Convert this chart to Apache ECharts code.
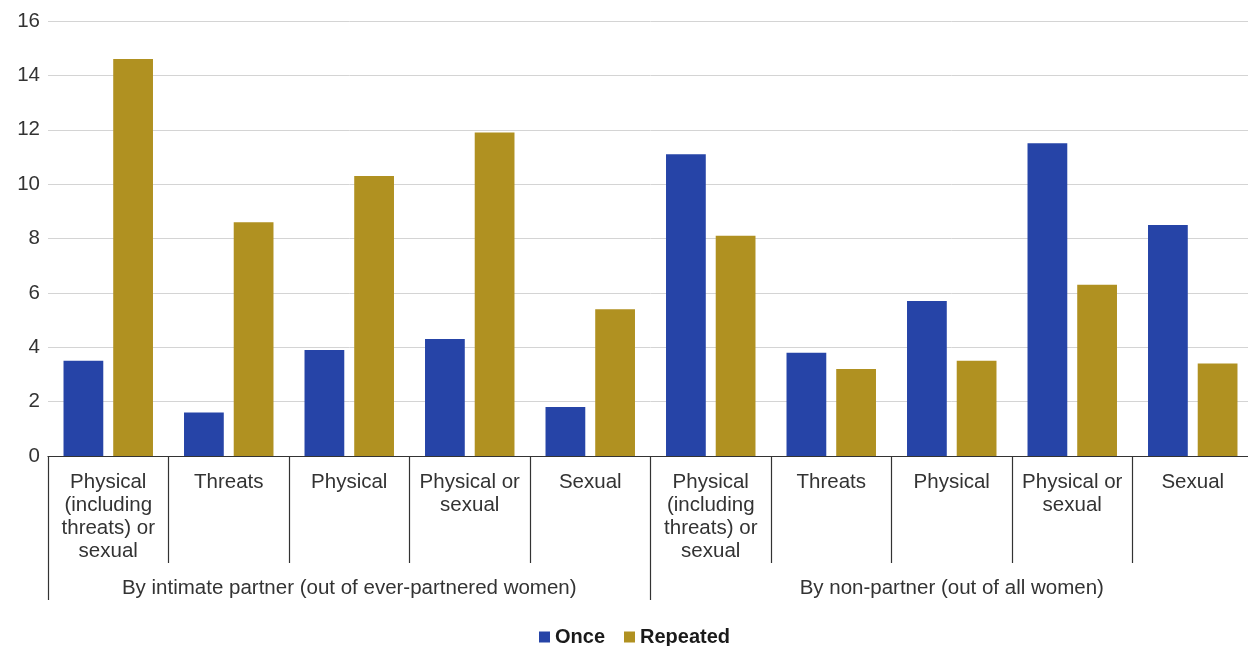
<!DOCTYPE html>
<html>
<head>
<meta charset="utf-8">
<script src="https://cdn.jsdelivr.net/npm/echarts@6/dist/echarts.min.js"></script>
<style>html,body{margin:0;padding:0;background:#fff;overflow:hidden;width:1248px;height:646px}#c{width:1262px;height:646px}</style>
</head>
<body>
<div id="c"></div>
<script>
const categories = [
  "Physical\n(including\nthreats) or\nsexual", "Threats", "Physical", "Physical or\nsexual", "Sexual",
  "Physical\n(including\nthreats) or\nsexual", "Threats", "Physical", "Physical or\nsexual", "Sexual"
];
const groups = ["By intimate partner (out of ever-partnered women)", "By non-partner (out of all women)"];
const onceValues = [3.5, 1.6, 3.9, 4.3, 1.8, 11.1, 3.8, 5.7, 11.5, 8.5];
const repeatedValues = [14.6, 8.6, 10.3, 11.9, 5.4, 8.1, 3.2, 3.5, 6.3, 3.4];
const seriesNames = ["Once", "Repeated"];

const chart = echarts.init(document.getElementById('c'), null, {renderer: 'canvas'});
const font = "'Liberation Sans', Arial, sans-serif";
chart.setOption({
  animation: false,
  textStyle: {fontFamily: font},
  grid: {left: 48, right: 9, top: 21, bottom: 190, containLabel: false},
  legend: {
    top: 622, left: 534, icon: 'rect', itemWidth: 11, itemHeight: 11, itemGap: 19,
    data: seriesNames,
    textStyle: {fontFamily: font, fontSize: 20, fontWeight: 'bold', color: '#1a1a1a'}
  },
  xAxis: [{
    type: 'category', data: categories, position: 'bottom',
    axisLine: {show: true, lineStyle: {color: '#333', width: 1.2}},
    axisTick: {show: true, length: 107, interval: 0, lineStyle: {color: '#333', width: 1.2}},
    axisLabel: {interval: 0, margin: 15, fontSize: 20.5, lineHeight: 23, color: '#333', fontFamily: font, verticalAlign: 'top'},
    splitLine: {show: false}
  }, {
    type: 'category', data: groups, position: 'bottom', offset: 107,
    axisLine: {show: false},
    axisTick: {show: true, length: 37, interval: 0, lineStyle: {color: '#333', width: 1.2}},
    axisLabel: {interval: 0, margin: 14, fontSize: 20.5, lineHeight: 23, color: '#333', fontFamily: font, verticalAlign: 'top'},
    splitLine: {show: false}
  }],
  yAxis: {
    type: 'value', min: 0, max: 16, interval: 2,
    axisLine: {show: false}, axisTick: {show: false},
    axisLabel: {fontSize: 20.5, color: '#333', margin: 8, fontFamily: font, padding: [4, 0, 0, 0]},
    splitLine: {lineStyle: {color: '#d4d4d4', width: 1}}
  },
  series: [{
    name: seriesNames[0], type: 'bar', data: onceValues, xAxisIndex: 0,
    barWidth: '33%', barGap: '25%',
    itemStyle: {color: '#2644A7'}
  }, {
    name: seriesNames[1], type: 'bar', data: repeatedValues, xAxisIndex: 0,
    barWidth: '33%', barGap: '25%',
    itemStyle: {color: '#B09121'}
  }]
});
</script>
</body>
</html>
